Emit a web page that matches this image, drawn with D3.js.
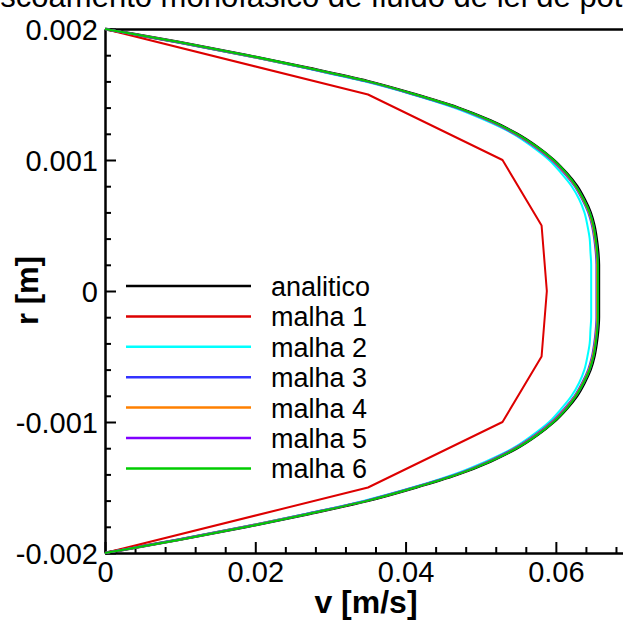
<!DOCTYPE html>
<html>
<head>
<meta charset="utf-8">
<script src="https://cdn.jsdelivr.net/npm/d3@7"></script>
<style>
  body { margin: 0; background: #fff; }
  svg { display: block; }
  text { font-family: "Liberation Sans", Arial, Helvetica, sans-serif; fill: #000; }
</style>
</head>
<body>
<svg id="chart" width="623" height="621"></svg>
<script>
// ---- labels and ticks ----
const titleText = "escoamento monofásico de fluido de lei de potência";
const xLabel = "v [m/s]";
const yLabel = "r [m]";
const xTickValues = [0, 0.02, 0.04, 0.06];
const xTickLabels = ["0", "0.02", "0.04", "0.06"];
const yTickValues = [-0.002, -0.001, 0, 0.001, 0.002];
const yTickLabels = ["-0.002", "-0.001", "0", "0.001", "0.002"];

// ---- radial positions (m) for the fine profiles ----
const rFine = [0.002, 0.0019, 0.0018, 0.0017, 0.0016, 0.0015, 0.0014, 0.0013, 0.0012, 0.0011,
  0.001, 0.0009, 0.0008, 0.0007, 0.0006, 0.0005, 0.0004, 0.0003, 0.0002, 0.0001,
  0,
  -0.0001, -0.0002, -0.0003, -0.0004, -0.0005, -0.0006, -0.0007, -0.0008, -0.0009, -0.001,
  -0.0011, -0.0012, -0.0013, -0.0014, -0.0015, -0.0016, -0.0017, -0.0018, -0.0019, -0.002];

// ---- axial velocity (m/s) ----
const vAnalitico = [0, 0.0097, 0.0188, 0.0272, 0.0350, 0.0413, 0.0469, 0.0513, 0.0548, 0.0575,
  0.0597, 0.0614, 0.0628, 0.0638, 0.0646, 0.0651, 0.0654, 0.0656, 0.0657, 0.0657,
  0.0657,
  0.0657, 0.0657, 0.0656, 0.0654, 0.0651, 0.0646, 0.0638, 0.0628, 0.0614, 0.0597,
  0.0575, 0.0548, 0.0513, 0.0469, 0.0413, 0.0350, 0.0272, 0.0188, 0.0097, 0];

// coarsest mesh: only 9 nodes across the pipe
const rMalha1 = [0.002, 0.0015, 0.001, 0.0005, 0, -0.0005, -0.001, -0.0015, -0.002];
const vMalha1 = [0, 0.0350, 0.0529, 0.0581, 0.0588, 0.0581, 0.0529, 0.0350, 0];

const vMalha2 = [0, 0.0095, 0.0185, 0.0268, 0.0345, 0.0409, 0.0464, 0.0507, 0.0543, 0.0569,
  0.0591, 0.0607, 0.0621, 0.0631, 0.0638, 0.0642, 0.0645, 0.0646, 0.0647, 0.0647,
  0.0647,
  0.0647, 0.0647, 0.0646, 0.0645, 0.0642, 0.0638, 0.0631, 0.0621, 0.0607, 0.0591,
  0.0569, 0.0543, 0.0507, 0.0464, 0.0409, 0.0345, 0.0268, 0.0185, 0.0095, 0];

const vMalha3 = [0, 0.0096, 0.0187, 0.0270, 0.0348, 0.0411, 0.0467, 0.0510, 0.0545, 0.0572,
  0.0594, 0.0611, 0.0625, 0.0635, 0.0643, 0.0648, 0.0651, 0.0653, 0.0654, 0.0654,
  0.0654,
  0.0654, 0.0654, 0.0653, 0.0651, 0.0648, 0.0643, 0.0635, 0.0625, 0.0611, 0.0594,
  0.0572, 0.0545, 0.0510, 0.0467, 0.0411, 0.0348, 0.0270, 0.0187, 0.0096, 0];

const vMalha4 = [0, 0.0097, 0.0187, 0.0271, 0.0349, 0.0412, 0.0468, 0.0511, 0.0546, 0.0573,
  0.0595, 0.0612, 0.0626, 0.0636, 0.0644, 0.0649, 0.0652, 0.0654, 0.0655, 0.0655,
  0.0655,
  0.0655, 0.0655, 0.0654, 0.0652, 0.0649, 0.0644, 0.0636, 0.0626, 0.0612, 0.0595,
  0.0573, 0.0546, 0.0511, 0.0468, 0.0412, 0.0349, 0.0271, 0.0187, 0.0097, 0];

const vMalha5 = [0, 0.0097, 0.0188, 0.0271, 0.0349, 0.0412, 0.0468, 0.0512, 0.0547, 0.0574,
  0.0596, 0.0613, 0.0627, 0.0637, 0.0645, 0.0650, 0.0653, 0.0655, 0.0656, 0.0656,
  0.0656,
  0.0656, 0.0656, 0.0655, 0.0653, 0.0650, 0.0645, 0.0637, 0.0627, 0.0613, 0.0596,
  0.0574, 0.0547, 0.0512, 0.0468, 0.0412, 0.0349, 0.0271, 0.0188, 0.0097, 0];

const vMalha6 = [0, 0.0098, 0.0189, 0.0272, 0.0350, 0.0413, 0.0469, 0.0513, 0.0548, 0.0575,
  0.0597, 0.0614, 0.0627, 0.0637, 0.0645, 0.0650, 0.0653, 0.0655, 0.0656, 0.0656,
  0.0656,
  0.0656, 0.0656, 0.0655, 0.0653, 0.0650, 0.0645, 0.0637, 0.0627, 0.0614, 0.0597,
  0.0575, 0.0548, 0.0513, 0.0469, 0.0413, 0.0350, 0.0272, 0.0189, 0.0098, 0];

const seriesNames = ["analitico", "malha 1", "malha 2", "malha 3", "malha 4", "malha 5", "malha 6"];

// ---- styles ----
const seriesColors = ["#000000", "#dd0000", "#00ffff", "#3333ff", "#ff8000", "#8000ff", "#00cc00"];
const seriesWidths = [3, 2, 2, 2, 2, 2, 2];

const series = [
  { r: rFine, v: vAnalitico },
  { r: rMalha1, v: vMalha1, linear: true },
  { r: rFine, v: vMalha2 },
  { r: rFine, v: vMalha3 },
  { r: rFine, v: vMalha4 },
  { r: rFine, v: vMalha5 },
  { r: rFine, v: vMalha6 }
].map((s, i) => ({ ...s, name: seriesNames[i], color: seriesColors[i], width: seriesWidths[i] }));

// ---- layout ----
const svg = d3.select("#chart");
const plotLeft = 105, plotRight = 631, plotTop = 29, plotBottom = 553;

const x = d3.scaleLinear().domain([0, 0.07]).range([plotLeft, plotRight]);
const y = d3.scaleLinear().domain([-0.002, 0.002]).range([plotBottom, plotTop]);

// title, partly above the visible area
const title = svg.append("text")
  .attr("y", 6.7)
  .style("font-size", "31px")
  .text(titleText);
const probe = svg.append("text").style("font-size", "31px").attr("opacity", 0).text("escoamento ");
const lead = probe.node().getComputedTextLength();
probe.remove();
title.attr("x", 152 - lead);

// minor ticks
const xMinor = d3.range(0, 0.0701, 0.004).filter(d => !xTickValues.some(t => Math.abs(t - d) < 1e-9));
const yMinor = d3.range(-0.002, 0.00201, 0.0002).filter(d => !yTickValues.some(t => Math.abs(t - d) < 1e-9));

svg.append("g")
  .attr("transform", `translate(0,${plotBottom})`)
  .call(d3.axisBottom(x).tickValues(xMinor).tickSize(-6).tickFormat(""))
  .call(g => g.select(".domain").remove())
  .call(g => g.selectAll("line").attr("stroke", "#000").attr("stroke-width", 2));

svg.append("g")
  .attr("transform", `translate(${plotLeft},0)`)
  .call(d3.axisLeft(y).tickValues(yMinor).tickSize(-6).tickFormat(""))
  .call(g => g.select(".domain").remove())
  .call(g => g.selectAll("line").attr("stroke", "#000").attr("stroke-width", 2));

// major axes
const xAxis = svg.append("g")
  .attr("transform", `translate(0,${plotBottom})`)
  .call(d3.axisBottom(x).tickValues(xTickValues)
    .tickFormat((d, i) => xTickLabels[i])
    .tickSizeInner(-11).tickSizeOuter(0).tickPadding(8));

const yAxis = svg.append("g")
  .attr("transform", `translate(${plotLeft},0)`)
  .call(d3.axisLeft(y).tickValues(yTickValues)
    .tickFormat((d, i) => yTickLabels[i])
    .tickSizeInner(-11).tickSizeOuter(0).tickPadding(7));

[xAxis, yAxis].forEach(g => {
  g.select(".domain").attr("stroke", "#000").attr("stroke-width", 2.5);
  g.selectAll(".tick line").attr("stroke", "#000").attr("stroke-width", 2);
  g.selectAll(".tick text").attr("fill", "#000")
    .style("font-size", "29px")
    .style("font-family", "\"Liberation Sans\", Arial, sans-serif");
});
yAxis.selectAll(".tick text").attr("dy", "0.36em");

// frame top and right
svg.append("line")
  .attr("x1", x(0)).attr("x2", x(0.07))
  .attr("y1", y(0.002) + 0.5).attr("y2", y(0.002) + 0.5)
  .attr("stroke", "#000").attr("stroke-width", 2.5);
svg.append("line")
  .attr("x1", x(0.07)).attr("x2", x(0.07))
  .attr("y1", y(0.002)).attr("y2", y(-0.002))
  .attr("stroke", "#000").attr("stroke-width", 2.5);

// profiles
const lineSmooth = d3.line().x(d => x(d[0])).y(d => y(d[1])).curve(d3.curveMonotoneY);
const lineStraight = d3.line().x(d => x(d[0])).y(d => y(d[1]));

svg.append("g").selectAll("path")
  .data(series)
  .join("path")
  .attr("d", s => (s.linear ? lineStraight : lineSmooth)(s.v.map((v, i) => [v, s.r[i]])))
  .attr("fill", "none")
  .attr("stroke", s => s.color)
  .attr("stroke-width", s => s.width)
  .attr("stroke-linejoin", "round");

// legend
const legend = svg.append("g");
const legendY = i => 286 + i * 30.4;
series.forEach((s, i) => {
  legend.append("line")
    .attr("x1", 126).attr("x2", 251)
    .attr("y1", legendY(i)).attr("y2", legendY(i))
    .attr("stroke", s.color).attr("stroke-width", 2.5);
  legend.append("text")
    .attr("x", 271).attr("y", legendY(i) + 10)
    .style("font-size", "27px")
    .text(s.name);
});

// axis titles
svg.append("text")
  .attr("x", 366).attr("y", 613)
  .attr("text-anchor", "middle")
  .style("font-size", "32px").style("font-weight", "bold")
  .text(xLabel);

svg.append("text")
  .attr("transform", "translate(38,290.5) rotate(-90)")
  .attr("text-anchor", "middle")
  .style("font-size", "31px").style("font-weight", "bold")
  .text(yLabel);
</script>
</body>
</html>
